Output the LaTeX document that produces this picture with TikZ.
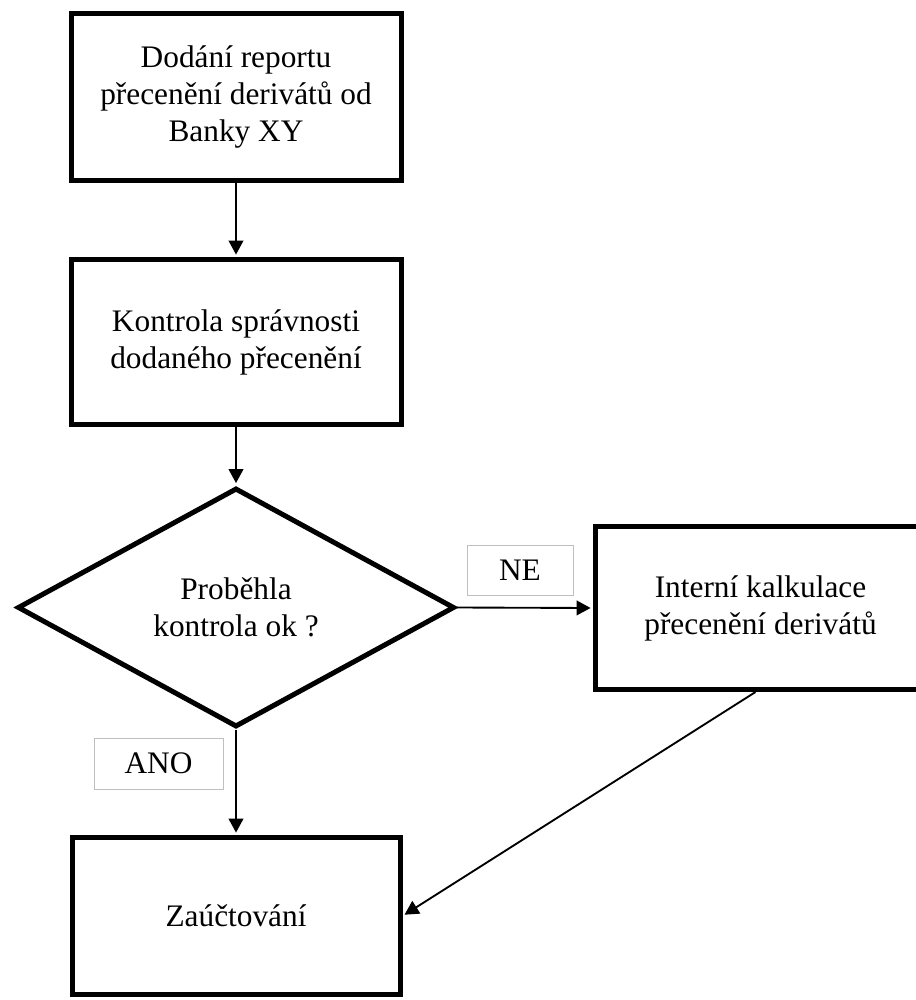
\documentclass[tikz,border=0pt]{standalone}
\usepackage{fontspec}
\setmainfont{Liberation Serif}
\usetikzlibrary{arrows.meta,shapes.geometric}
\begin{document}
\begin{tikzpicture}[x=0.75pt,y=-0.75pt,
  every node/.style={font=\fontsize{23.5pt}{27.75pt}\selectfont, align=center},
  procbox/.style={draw, rectangle, line width=3.75pt, inner sep=0pt},
  decision/.style={draw, diamond, line width=3.75pt, inner sep=0pt},
  tag/.style={draw=black!25, rectangle, line width=0.75pt, inner sep=0pt},
  flow/.style={line width=1.4pt, -{Triangle[length=10.5pt,width=11pt]}, shorten >=1.8pt}]
  \useasboundingbox (0,0) rectangle (915,1000);

  % process steps
  \node[procbox, minimum width=247.5pt, minimum height=125.25pt] (dodani) at (236,97)
    {Dodání reportu\\přecenění derivátů od\\Banky XY};
  \node[procbox, minimum width=247.5pt, minimum height=123.75pt] (kontrola) at (236,342)
    {Kontrola správnosti\\dodaného přecenění};
  \node[decision, minimum width=327.75pt, minimum height=179.25pt] (rozhod) at (236,607.5)
    {Proběhla\\kontrola ok ?};
  \node[procbox, minimum width=247.5pt, minimum height=122.25pt] (interni) at (760.5,608)
    {Interní kalkulace\\přecenění derivátů};
  \node[procbox, minimum width=246pt, minimum height=117.75pt] (zauct) at (236,916)
    {Zaúčtování};

  % branch labels
  \node[tag, minimum width=79.5pt, minimum height=37.5pt] (ne) at (520,570) {NE};
  \node[tag, minimum width=96.75pt, minimum height=38.25pt] (ano) at (158.5,763.5) {ANO};

  % connectors
  \draw[flow] (dodani) -- (kontrola);
  \draw[flow] (kontrola) -- (rozhod);
  \draw[flow] (rozhod.east) -- (interni.west);
  \draw[flow] (rozhod.south) -- (zauct.north);
  \draw[flow] (interni.south) ++(-5,0) -- (zauct.east);
\end{tikzpicture}
\end{document}
